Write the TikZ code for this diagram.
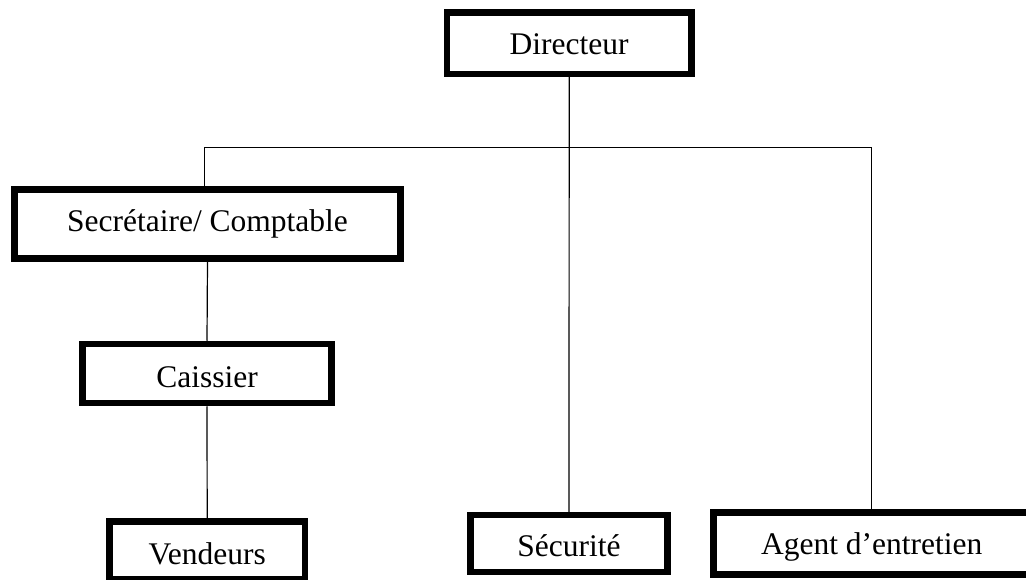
\documentclass[tikz,border=0pt]{standalone}
\usepackage{fontspec}
\setmainfont{Liberation Serif}
\begin{document}
\begin{tikzpicture}[x=1pt,y=-1pt,
  orgbox/.style={draw=black, line width=6.5pt, inner sep=0pt, rectangle,
    font=\fontsize{31.5}{36}\selectfont, text depth=0pt},
  link/.style={draw=black, line width=1.2pt}]
\useasboundingbox (0,0) rectangle (1026,580);
\node[orgbox, minimum width=244.5pt, minimum height=61.3pt, text height=23.4pt] (dir) at (569.2,43.3) {Directeur};
\node[orgbox, minimum width=386.4pt, minimum height=69pt, text height=15.8pt] (sec) at (207.5,223.8) {Secrétaire/ Comptable};
\node[orgbox, minimum width=248.6pt, minimum height=59pt, text height=27.6pt] (cai) at (207,373.5) {Caissier};
\node[orgbox, minimum width=195.7pt, minimum height=57.5pt, text height=29pt] (ven) at (207.2,550) {Vendeurs};
\node[orgbox, minimum width=196.6pt, minimum height=57.2pt, text height=26.2pt] (secu) at (569,543.6) {Sécurité};
\node[orgbox, minimum width=316pt, minimum height=61.8pt, text height=20.8pt] (agent) at (871.7,543.6) {Agent d’entretien};
\coordinate (busL) at (204.8,147.3);
\coordinate (busR) at (871.7,147.3);
\draw[link] (dir.south) -- (secu.north);
\draw[link] (busL) -- (busR);
\draw[link] (busL) -- (busL |- sec.north);
\draw[link] (busR) -- (agent.north);
\draw[link] (sec.south) -- (cai.north);
\draw[link] (cai.south) -- (ven.north);
\end{tikzpicture}
\end{document}
